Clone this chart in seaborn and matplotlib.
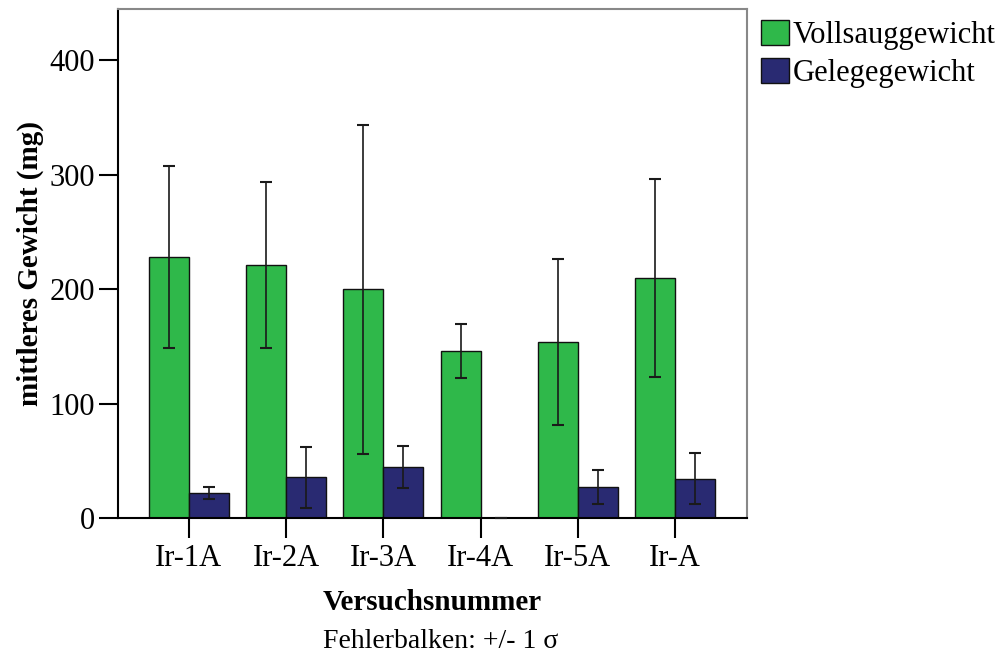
import matplotlib
matplotlib.use('Agg')
import matplotlib.pyplot as plt
from matplotlib.patches import Patch
import seaborn as sns
import pandas as pd

categories = ["Ir-1A", "Ir-2A", "Ir-3A", "Ir-4A", "Ir-5A", "Ir-A"]
series = ["Vollsauggewicht", "Gelegegewicht"]
voll_mean = [228, 221, 200, 146, 154, 210]
voll_sd = [79.5, 72.5, 144, 24, 72.5, 86.5]
gelege_mean = [22, 35.5, 44.5, 0, 27, 34.5]
gelege_sd = [5, 26.5, 18.5, 0, 15, 22]
y_ticks = [0, 100, 200, 300, 400]
colors = ["#2fb84a", "#292a72"]

sns.set_theme(style='white')
plt.rcParams['font.family'] = ['Liberation Serif', 'DejaVu Serif']
plt.rcParams['text.color'] = 'black'
plt.rcParams['axes.labelcolor'] = 'black'

df = pd.DataFrame({
    'Versuchsnummer': categories * 2,
    'Serie': [series[0]] * len(categories) + [series[1]] * len(categories),
    'Gewicht': voll_mean + gelege_mean,
})

fig = plt.figure(figsize=(10, 6.6), dpi=100)
ax = fig.add_axes([0.118, 0.2152, 0.629, 0.7712])
sns.barplot(data=df, x='Versuchsnummer', y='Gewicht', hue='Serie',
            order=categories, hue_order=series, palette=colors,
            width=0.82, errorbar=None, edgecolor='#111111', linewidth=1.0,
            saturation=1, ax=ax, legend=False)

for cont, sd in zip(ax.containers, [voll_sd, gelege_sd]):
    xs = [p.get_x() + p.get_width() / 2 for p in cont]
    hs = [p.get_height() for p in cont]
    ax.errorbar(xs, hs, yerr=sd, fmt='none', ecolor='#1a1a1a',
                elinewidth=1.2, capsize=4, capthick=1.5, zorder=5, clip_on=False)

ax.set_ylim(0, 445)
ax.set_xlim(-0.727, 5.738)
ax.set_yticks(y_ticks)
ax.grid(False)

ax.tick_params(axis='both', which='major', direction='out', bottom=True, left=True,
               width=1.5, colors='black', labelsize=22)
ax.tick_params(axis='y', length=13.7, pad=3)
ax.tick_params(axis='x', length=14.4, pad=4)

for s in ['left', 'bottom']:
    ax.spines[s].set_color('black')
    ax.spines[s].set_linewidth(1.5)
for s in ['top', 'right']:
    ax.spines[s].set_color('#888888')
    ax.spines[s].set_linewidth(1.5)

ax.set_xlabel('Versuchsnummer', fontsize=21, fontweight='bold', color='black')
ax.xaxis.set_label_coords(0.5, (518 - 603) / 509)
ax.xaxis.label.set_verticalalignment('center')
ax.set_ylabel('mittleres Gewicht (mg)', fontsize=21, fontweight='bold', color='black')
ax.yaxis.set_label_coords((30 - 118) / 629, 0.5)
ax.yaxis.label.set_verticalalignment('center')

fig.text(0.441, 1 - 642 / 660, 'Fehlerbalken: +/- 1 σ', ha='center', va='center',
         fontsize=20, color='black')

handles = [Patch(facecolor=c, edgecolor='#111111', linewidth=1.0) for c in colors]
ax.legend(handles, series, loc='upper left', bbox_to_anchor=(0.761, 1 - 20 / 660),
          bbox_transform=fig.transFigure, frameon=False, fontsize=22,
          handlelength=0.9, handleheight=0.9, handletextpad=0.15,
          labelspacing=0.25, borderpad=0, borderaxespad=0)

fig.savefig('out.png', dpi=100)
